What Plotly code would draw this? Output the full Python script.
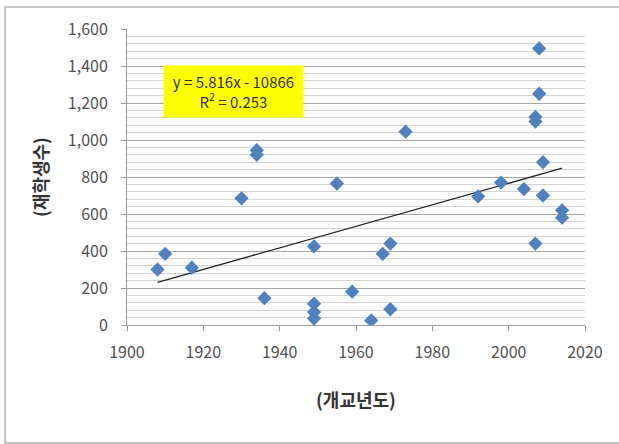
import plotly.graph_objects as go

# Data
years = [1908, 1910, 1917, 1930, 1934, 1934, 1936, 1949, 1949, 1949, 1949,
         1955, 1959, 1964, 1967, 1969, 1969, 1973, 1992, 1998, 2004,
         2007, 2007, 2007, 2008, 2008, 2009, 2009, 2014, 2014]
students = [300, 385, 310, 685, 945, 920, 145, 425, 115, 70, 35,
            765, 180, 25, 385, 440, 85, 1045, 695, 770, 735,
            1125, 1100, 440, 1495, 1250, 880, 700, 620, 580]

slope = 5.816
intercept = -10866
r2 = 0.253

x_ticks = [1900, 1920, 1940, 1960, 1980, 2000, 2020]
y_ticks = [0, 200, 400, 600, 800, 1000, 1200, 1400, 1600]

FONT = "Noto Sans CJK KR, Noto Sans, sans-serif"

fig = go.Figure()

tx = [min(years), max(years)]
ty = [slope * v + intercept for v in tx]
fig.add_trace(go.Scatter(x=tx, y=ty, mode="lines",
                         line=dict(color="#222222", width=1.3),
                         hoverinfo="skip", showlegend=False))

fig.add_trace(go.Scatter(x=years, y=students, mode="markers",
                         marker=dict(symbol="diamond", size=11, color="#4F81BD",
                                     line=dict(width=0)),
                         showlegend=False))

fig.update_layout(
    width=619, height=444,
    margin=dict(l=127, r=34, t=29, b=119),
    paper_bgcolor="white", plot_bgcolor="white",
    font=dict(family=FONT, size=12, color="#404040"),
    xaxis=dict(range=[1900, 2020], tickvals=x_ticks, showgrid=False,
               zeroline=False, showline=True, linecolor="#9a9a9a", linewidth=1,
               ticks="outside", ticklen=5, tickcolor="#9a9a9a",
               ticklabelstandoff=8,
               tickfont=dict(size=16, color="#505050"),
               title=dict(text="<b>(개교년도)</b>", font=dict(size=18, color="#333333"),
                          standoff=32)),
    yaxis=dict(range=[0, 1600], tickvals=y_ticks, tickformat=",",
               showgrid=True, gridcolor="#a6a6a6", gridwidth=1,
               zeroline=False, showline=True, linecolor="#9a9a9a", linewidth=1,
               ticks="outside", ticklen=5, tickcolor="#9a9a9a",
               ticklabelstandoff=10,
               tickfont=dict(size=16, color="#505050"),
               minor=dict(dtick=40, showgrid=True, gridcolor="#d4d4d4", gridwidth=1),
               title=dict(text="<b>(재학생수)</b>", font=dict(size=18, color="#333333"),
                          standoff=14)),
    shapes=[dict(type="rect", xref="paper", yref="paper",
                 x0=(5 - 127) / 458, x1=(630 - 127) / 458,
                 y0=(325 - 443) / 296, y1=(325 - 7) / 296,
                 line=dict(color="#b0b0b0", width=1.5), layer="below")],
    annotations=[dict(x=(163 - 127) / 458, y=(325 - 65) / 296, xref="paper", yref="paper",
                      xanchor="left", yanchor="top",
                      text="y = 5.816x - 10866<br>R<sup>2</sup> = 0.253",
                      showarrow=False, align="center",
                      bgcolor="#ffff00", borderpad=5, width=129,
                      font=dict(size=15, color="#333333", family=FONT))],
)

fig.write_html("out.html", config={"displayModeBar": False},
               post_script="document.body.style.margin='0px';document.body.style.overflow='hidden';")
